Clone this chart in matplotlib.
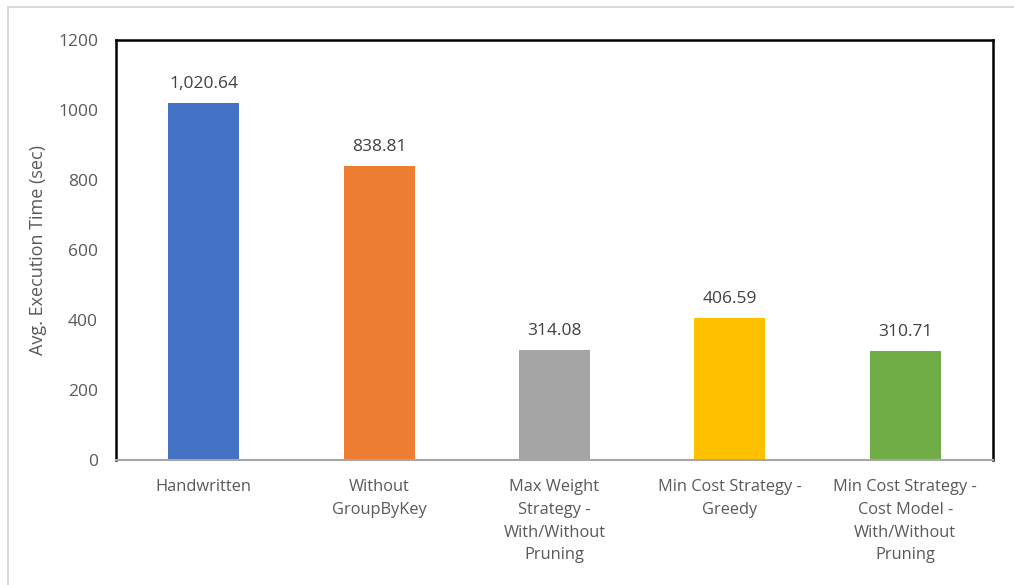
import matplotlib.pyplot as plt
from matplotlib.patches import Rectangle

categories = ["Handwritten", "Without\nGroupByKey", "Max Weight\nStrategy -\nWith/Without\nPruning",
              "Min Cost Strategy -\nGreedy", "Min Cost Strategy -\nCost Model -\nWith/Without\nPruning"]
values = [1020.64, 838.81, 314.08, 406.59, 310.71]
colors = ["#4472C4", "#ED7D31", "#A5A5A5", "#FFC000", "#70AD47"]

plt.rcParams['font.family'] = ['Open Sans', 'DejaVu Sans']
txt = "#595959"

fig = plt.figure(figsize=(10.14, 5.85), dpi=100)
fig.patches.append(Rectangle((8/1014, -0.1), 1.2, (585-7)/585 + 0.1, transform=fig.transFigure,
                             fill=False, edgecolor="#D9D9D9", linewidth=1.5))
ax = fig.add_axes([116/1014, 1-460/585, (993-116)/1014, (460-40)/585])

x = range(len(values))
ax.bar(x, values, width=0.405, color=colors, zorder=2)
for i, v in enumerate(values):
    ax.annotate(f"{v:,.2f}", (i, v), xytext=(0, 8), textcoords="offset points",
                ha="center", va="bottom", fontsize=12.5, color="#404040")

ax.set_xlim(-0.5, 4.5)
ax.set_ylim(0, 1200)
ax.set_yticks(range(0, 1201, 200))
ax.set_xticks(list(x))
ax.set_xticklabels(categories, fontsize=11.8, color=txt, linespacing=1.55, va="top")
ax.tick_params(axis="y", length=0, labelsize=12.5, colors=txt, pad=13)
ax.tick_params(axis="x", length=0, colors=txt, pad=14)
for s in ["left", "top", "right"]:
    ax.spines[s].set_linewidth(1.8)
    ax.spines[s].set_color("black")
ax.spines["bottom"].set_color("#A6A6A6")
ax.spines["bottom"].set_linewidth(1.5)
ax.set_ylabel("Avg. Execution Time (sec)", fontsize=13, color=txt, labelpad=8)

fig.savefig("out.png", dpi=100)
